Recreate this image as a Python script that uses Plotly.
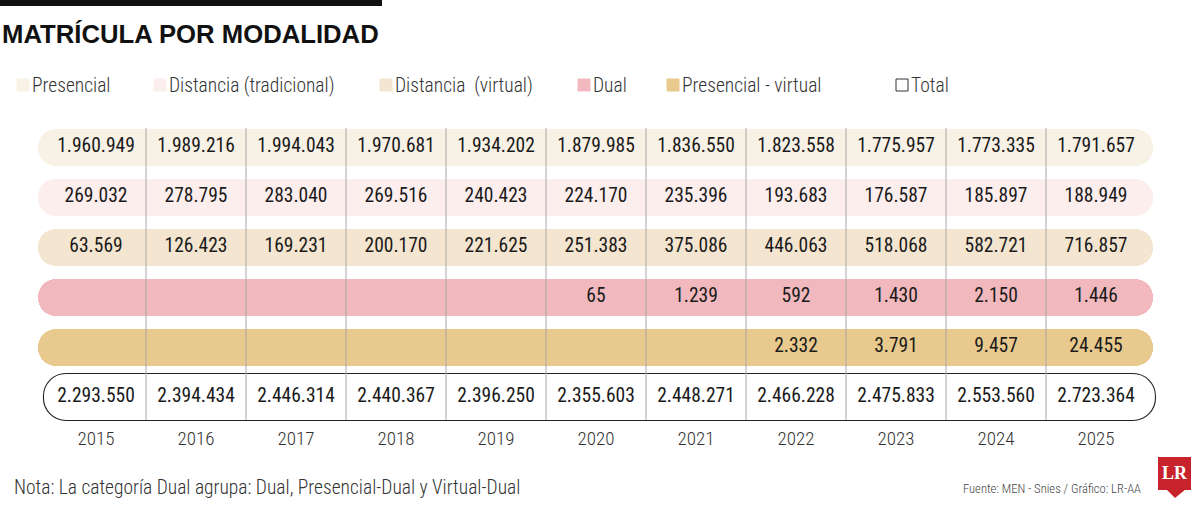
import plotly.graph_objects as go

# Matricula por modalidad (datos del grafico)
years = [2015, 2016, 2017, 2018, 2019, 2020, 2021, 2022, 2023, 2024, 2025]
presencial = [1960949, 1989216, 1994043, 1970681, 1934202, 1879985, 1836550, 1823558, 1775957, 1773335, 1791657]
distancia_tradicional = [269032, 278795, 283040, 269516, 240423, 224170, 235396, 193683, 176587, 185897, 188949]
distancia_virtual = [63569, 126423, 169231, 200170, 221625, 251383, 375086, 446063, 518068, 582721, 716857]
dual = [None, None, None, None, None, 65, 1239, 592, 1430, 2150, 1446]
presencial_virtual = [None, None, None, None, None, None, None, 2332, 3791, 9457, 24455]
total = [2293550, 2394434, 2446314, 2440367, 2396250, 2355603, 2448271, 2466228, 2475833, 2553560, 2723364]

labels = ["Presencial", "Distancia (tradicional)", "Distancia  (virtual)", "Dual", "Presencial - virtual", "Total"]
colors = ["#f8f1e6", "#fdeeee", "#f4e5d0", "#f1b9bd", "#e9ca8e", "#ffffff"]
series = [presencial, distancia_tradicional, distancia_virtual, dual, presencial_virtual, total]

W, H = 1200, 506
FONT = "Roboto Condensed, Liberation Sans, sans-serif"
ROW0, ROW_STEP = 147.5, 50  # pixel centre of first row, pixels per row


def px_x(px):
    # pixel -> year axis (one column = 100 px, 2015 at 96 px)
    return 2015 + (px - 96) / 100


def fmt(v):
    return "" if v is None else f"{v:,}".replace(",", ".")


fig = go.Figure()

# background row bars (rounded at both ends)
left, right = px_x(38), px_x(1153)
for i, color in enumerate(colors[:5]):
    fig.add_trace(go.Bar(
        y=[i], x=[right - left], base=[left], orientation="h", width=0.74,
        marker=dict(color=color, line=dict(width=0), cornerradius=18),
        showlegend=False, hoverinfo="skip"))

# total row: white with a dark outline, a bit taller
fig.add_trace(go.Bar(
    y=[5], x=[px_x(1155.5) - px_x(43.5)], base=[px_x(43.5)], orientation="h", width=0.93,
    marker=dict(color="#ffffff", line=dict(width=1.1, color="#222222"), cornerradius=23),
    showlegend=False, hoverinfo="skip"))

# values
for i, values in enumerate(series):
    fig.add_trace(go.Scatter(
        x=years, y=[i] * len(years), mode="text", text=[fmt(v) for v in values],
        textfont=dict(family=FONT, size=19.5, color="#1a1a1a"),
        showlegend=False, hoverinfo="skip"))

# year labels
fig.add_trace(go.Scatter(
    x=years, y=[5.86] * len(years), mode="text", text=[str(y) for y in years],
    textfont=dict(family=FONT, size=19, color="#333333", weight=300),
    showlegend=False, hoverinfo="skip"))

# column dividers
for y in years[:-1]:
    fig.add_shape(type="line", xref="x", yref="y", x0=y + 0.5, x1=y + 0.5, y0=-0.39, y1=5.45,
                  line=dict(color="#a8a8a8", width=1), layer="above")

# top black rule and title
fig.add_shape(type="rect", xref="paper", yref="paper", x0=0, x1=382 / W, y0=1 - 6 / H, y1=1,
              fillcolor="#111111", line=dict(width=0))
fig.add_annotation(text="<b>MATRÍCULA POR MODALIDAD</b>", xref="paper", yref="paper",
                   x=0, y=1 - 34 / H, xanchor="left", yanchor="middle", showarrow=False,
                   font=dict(family="Liberation Sans, Arial, sans-serif", size=25.7, color="#111111"))

# legend
legend_x = [17, 154, 380, 578, 667, 896]
for lx, label, color in zip(legend_x, labels, colors):
    fig.add_shape(type="rect", xref="paper", yref="paper",
                  x0=lx / W, x1=(lx + 12) / W, y0=1 - 91 / H, y1=1 - 79 / H,
                  fillcolor=color, line=dict(color="#333333" if label == "Total" else color, width=1))
    fig.add_annotation(text=label, xref="paper", yref="paper", x=(lx + 13) / W, y=1 - 85 / H,
                       xanchor="left", yanchor="middle", showarrow=False,
                       font=dict(family=FONT, size=19.5, color="#333333", weight=300))

# notes
fig.add_annotation(text="Nota: La categoría Dual agrupa: Dual, Presencial-Dual y Virtual-Dual",
                   xref="paper", yref="paper", x=12 / W, y=1 - 487 / H, xanchor="left", yanchor="middle",
                   showarrow=False, font=dict(family=FONT, size=19.5, color="#333333", weight=300))
fig.add_annotation(text="Fuente: MEN - Snies / Gráfico: LR-AA",
                   xref="paper", yref="paper", x=1143 / W, y=1 - 488 / H, xanchor="right", yanchor="middle",
                   showarrow=False, font=dict(family=FONT, size=12.6, color="#444444", weight=300))

# LR logo
fig.add_shape(type="rect", xref="paper", yref="paper", x0=1158 / W, x1=1191 / W,
              y0=1 - 490 / H, y1=1 - 457 / H, fillcolor="#c8232c", line=dict(width=0))
fig.add_shape(type="path", xref="paper", yref="paper",
              path=f"M {1166 / W} {1 - 489 / H} L {1186 / W} {1 - 489 / H} L {1175 / W} {1 - 498 / H} Z",
              fillcolor="#c8232c", line=dict(width=0))
fig.add_annotation(text="<b>LR</b>", xref="paper", yref="paper", x=1174.5 / W, y=1 - 473 / H,
                   xanchor="center", yanchor="middle", showarrow=False,
                   font=dict(family="Liberation Serif, DejaVu Serif, serif", size=18, color="#ffffff"))

fig.update_layout(
    width=W, height=H, barmode="overlay", bargap=0,
    margin=dict(l=0, r=0, t=0, b=0),
    paper_bgcolor="white", plot_bgcolor="white",
    xaxis=dict(range=[px_x(0), px_x(W)], visible=False, fixedrange=True),
    yaxis=dict(range=[(H - ROW0) / ROW_STEP, -ROW0 / ROW_STEP], visible=False, fixedrange=True),
)

# the page has a default 8px body margin; drop it so the figure sits at the corner
fig.write_html("out.html", config={"displayModeBar": False},
               post_script="document.body.style.margin = '0';")
